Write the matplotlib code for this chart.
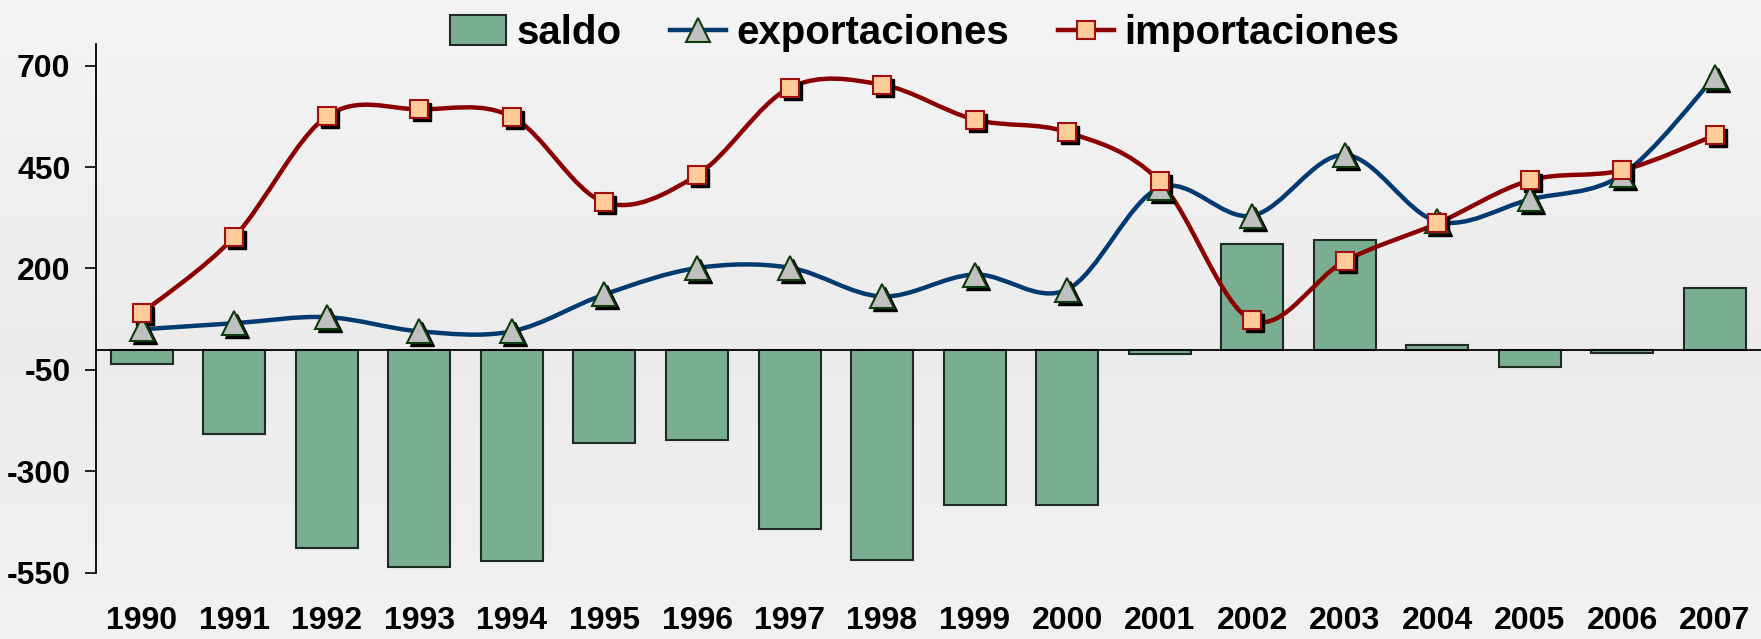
import numpy as np
import matplotlib
matplotlib.use("Agg")
import matplotlib.pyplot as plt
import matplotlib.transforms as mtransforms
from matplotlib.path import Path
from matplotlib.patches import PathPatch, Patch
from matplotlib.lines import Line2D

plt.rcParams['font.family'] = ['Liberation Sans', 'DejaVu Sans']
plt.rcParams['font.weight'] = 'bold'

years = ['1990', '1991', '1992', '1993', '1994', '1995', '1996', '1997', '1998',
         '1999', '2000', '2001', '2002', '2003', '2004', '2005', '2006', '2007']
saldo = [-35, -208, -489, -535, -522, -231, -222, -441, -519,
         -383, -383, -12, 261, 269, 11, -44, -8, 153]
exportaciones = [50, 65, 80, 45, 45, 136, 201, 202, 131,
                 185, 148, 399, 330, 480, 316, 370, 431, 672]
importaciones = [90, 278, 575, 592, 574, 363, 430, 645, 653,
                 567, 536, 415, 72, 218, 311, 417, 442, 528]
yticks = [-550, -300, -50, 200, 450, 700]


def smooth_path(xs, ys):
    # cubic bezier through the points, like the spreadsheet "smoothed line"
    verts = [(xs[0], ys[0])]
    codes = [Path.MOVETO]
    n = len(xs)
    for i in range(n - 1):
        a = i - 1 if i > 0 else i
        d = i + 2 if i + 2 < n else i + 1
        c1 = (xs[i] + (xs[i + 1] - xs[a]) / 6, ys[i] + (ys[i + 1] - ys[a]) / 6)
        c2 = (xs[i + 1] - (xs[d] - xs[i]) / 6, ys[i + 1] - (ys[d] - ys[i]) / 6)
        verts += [c1, c2, (xs[i + 1], ys[i + 1])]
        codes += [Path.CURVE4] * 3
    return Path(verts, codes)


fig = plt.figure(figsize=(17.61, 6.39), dpi=100)

# soft grey background gradient
bg = fig.add_axes([0, 0, 1, 1], zorder=-10)
grad = np.concatenate([np.linspace(0.955, 0.92, 55), np.linspace(0.92, 0.945, 45)])
bg.imshow(grad.reshape(-1, 1), cmap='gray', vmin=0, vmax=1, aspect='auto',
          extent=[0, 1, 0, 1])
bg.axis('off')

ax = fig.add_axes([0.0543, 0.1037, 0.9457, 0.8273])
ax.set_facecolor('none')
x = np.arange(len(years))

bar_color = '#7aae93'
ax.bar(x, saldo, width=0.67, color=bar_color, edgecolor='#1e2a22', linewidth=1.5, zorder=2)
ax.axhline(0, color='black', lw=1.3, zorder=2.5)

exp_color = '#003a70'
imp_color = '#8b0000'
ax.add_patch(PathPatch(smooth_path(x, exportaciones), fill=False, edgecolor=exp_color,
                       lw=3.2, capstyle='round', joinstyle='round', zorder=3))
ax.add_patch(PathPatch(smooth_path(x, importaciones), fill=False, edgecolor=imp_color,
                       lw=3.2, capstyle='round', joinstyle='round', zorder=3))

shadow = mtransforms.offset_copy(ax.transData, fig=fig, x=3, y=-3, units='dots')
ax.plot(x, exportaciones, ls='none', marker='^', ms=17, color='black', transform=shadow, zorder=4)
ax.plot(x, importaciones, ls='none', marker='s', ms=13.5, color='black', transform=shadow, zorder=4)
ax.plot(x, exportaciones, ls='none', marker='^', ms=17, mfc='#c0c0c0', mec='#0d3d0d',
        mew=1.5, zorder=5)
ax.plot(x, importaciones, ls='none', marker='s', ms=13.5, mfc='#ffcc99', mec='#a01010',
        mew=1.5, zorder=5)

ax.set_xlim(-0.5, len(years) - 0.5)
ax.set_ylim(-550, 753)
ax.set_yticks(yticks)
ax.set_yticklabels([str(v) for v in yticks], fontsize=23, fontweight='bold')
ax.set_xticks(x)
ax.set_xticklabels(years, fontsize=23, fontweight='bold')
ax.tick_params(axis='x', length=0, pad=24)
ax.tick_params(axis='y', direction='out', length=8, width=1.2, pad=10)
for s in ['top', 'right', 'bottom']:
    ax.spines[s].set_visible(False)
ax.spines['left'].set_linewidth(1.3)

handles = [
    Patch(facecolor=bar_color, edgecolor='#1e2a22', linewidth=1.5),
    Line2D([], [], color=exp_color, lw=3.2, marker='^', ms=17, mfc='#c0c0c0', mec='#0d3d0d', mew=1.5),
    Line2D([], [], color=imp_color, lw=3.2, marker='s', ms=13.5, mfc='#ffcc99', mec='#a01010', mew=1.5),
]
fig.legend(handles, ['saldo', 'exportaciones', 'importaciones'], loc='center',
           bbox_to_anchor=(0.525, 0.948), ncol=3, frameon=False,
           prop={'weight': 'bold', 'size': 29}, handlelength=1.4, handleheight=0.75,
           handletextpad=0.25, columnspacing=1.2)

fig.savefig('out.png', dpi=100)
